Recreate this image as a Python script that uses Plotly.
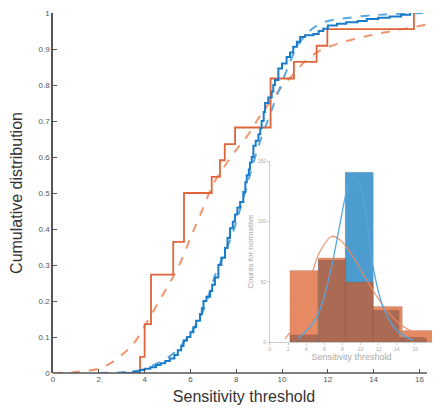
import plotly.graph_objects as go

# ---- main panel: empirical CDFs (step positions and values) ----
orange_step_x = [3.5, 3.8, 4.0, 4.28, 5.25, 5.72, 6.93, 7.29, 7.5, 7.95, 9.5, 10.52, 11.51, 11.98, 15.76]
orange_step_y = [0.0, 0.045, 0.136, 0.273, 0.364, 0.5, 0.545, 0.591, 0.636, 0.682, 0.818, 0.864, 0.909, 0.955, 1.0]

blue_step_x = [3.0, 3.5, 3.8, 4.0, 4.25, 4.5, 4.7, 4.9, 5.1, 5.3, 5.45, 5.6, 5.7, 5.85, 6.0,
               6.13, 6.25, 6.42, 6.5, 6.57, 6.7, 6.86, 6.95, 7.07, 7.22, 7.35, 7.51, 7.62,
               7.73, 7.85, 7.95, 8.05, 8.17, 8.31, 8.4, 8.46, 8.55, 8.6, 8.68, 8.75, 8.85,
               8.97, 9.05, 9.11, 9.2, 9.26, 9.4, 9.55, 9.62, 9.69, 9.84, 10.0, 10.2, 10.35,
               10.49, 10.65, 10.79, 11.0, 11.37, 11.6, 11.8, 12.0, 12.4, 12.8, 13.3, 13.7,
               14.2, 14.7, 15.2, 15.6]
blue_step_y = [0.0, 0.004, 0.008, 0.012, 0.016, 0.022, 0.027, 0.033, 0.04, 0.05, 0.063, 0.075,
               0.09, 0.1, 0.113, 0.127, 0.145, 0.164, 0.18, 0.2, 0.212, 0.228, 0.245, 0.265,
               0.3, 0.32, 0.347, 0.375, 0.402, 0.42, 0.44, 0.46, 0.475, 0.503, 0.53, 0.549,
               0.565, 0.585, 0.6, 0.631, 0.645, 0.663, 0.68, 0.7, 0.725, 0.75, 0.765, 0.782,
               0.8, 0.814, 0.846, 0.86, 0.878, 0.89, 0.906, 0.92, 0.933, 0.938, 0.942, 0.95,
               0.956, 0.965, 0.97, 0.974, 0.978, 0.983, 0.987, 0.99, 0.995, 1.0]

# ---- main panel: fitted CDFs (dashed) ----
orange_fit_x = [0, 1, 2, 2.5, 3, 3.5, 4, 4.5, 5, 5.5, 6, 6.5, 7, 7.5, 8, 8.5, 9, 9.5, 10,
                10.5, 11, 11.5, 12, 13, 14, 15, 16.3]
orange_fit_y = [0, 0.003, 0.012, 0.027, 0.05, 0.08, 0.13, 0.185, 0.24, 0.298, 0.375, 0.45,
                0.525, 0.575, 0.62, 0.66, 0.71, 0.755, 0.795, 0.83, 0.865, 0.89, 0.905,
                0.925, 0.94, 0.952, 0.968]

blue_fit_x = [2, 3, 3.8, 4.5, 5.25, 6, 6.56, 7.07, 7.8, 8.24, 8.6, 8.97, 9.4, 9.69, 10.2,
              10.79, 11.66, 13.1, 14.5, 16.3]
blue_fit_y = [0, 0.002, 0.008, 0.025, 0.054, 0.11, 0.173, 0.27, 0.38, 0.47, 0.55, 0.63,
              0.705, 0.755, 0.84, 0.92, 0.97, 0.988, 0.996, 1.0]

main_xticks = [0, 2, 4, 6, 8, 10, 12, 14, 16]
main_yticks = [0, 0.1, 0.2, 0.3, 0.4, 0.5, 0.6, 0.7, 0.8, 0.9, 1]

# ---- inset: histograms ----
orange_edges = [2.2, 5.33, 8.38, 11.4, 14.6, 17.94]
orange_counts = [59.4, 69.8, 49.8, 29.6, 9.6]
blue_edges = [2.2, 5.33, 8.3, 11.4, 14.26, 17.3]
blue_counts = [6, 68, 141, 26.5, 4]

# inset fitted curves
orange_pdf_x = [1.65, 2.57, 3.68, 4.6, 5.5, 6.8, 7.7, 8.8, 9.9, 11.4, 12.9, 14.3, 16.2, 17.6]
orange_pdf_y = [2.7, 12.3, 34, 56, 75, 87.6, 85, 75, 61.6, 42.4, 26, 15, 6.8, 2.7]
blue_pdf_x = [3.1, 5.15, 6.6, 7.7, 8.46, 9.2, 9.93, 10.66, 11.4, 12.5, 14.0, 15.8]
blue_pdf_y = [2.7, 20.5, 56, 97, 124.6, 137, 131, 102.7, 61.6, 28.7, 9.6, 1.4]

inset_xticks = [0, 2, 4, 6, 8, 10, 12, 14, 16]
inset_yticks = [0, 50, 100, 150]

ORANGE = "#D95319"
BLUE = "#0072BD"

def centers(edges):
    return [(a + b) / 2 for a, b in zip(edges[:-1], edges[1:])]

def widths(edges):
    return [b - a for a, b in zip(edges[:-1], edges[1:])]

fig = go.Figure()

# inset bars
fig.add_trace(go.Bar(x=centers(blue_edges), y=blue_counts, width=widths(blue_edges),
                     marker=dict(color=BLUE, opacity=0.7, line=dict(width=0.6, color="rgba(60,60,60,0.35)")),
                     xaxis="x2", yaxis="y2", showlegend=False))
fig.add_trace(go.Bar(x=centers(orange_edges), y=orange_counts, width=widths(orange_edges),
                     marker=dict(color=ORANGE, opacity=0.68, line=dict(width=0.6, color="rgba(60,60,60,0.35)")),
                     xaxis="x2", yaxis="y2", showlegend=False))
fig.add_trace(go.Scatter(x=orange_pdf_x, y=orange_pdf_y, mode="lines", line=dict(color="#EC8A60", width=1.1, shape="spline"),
                         xaxis="x2", yaxis="y2", showlegend=False))
fig.add_trace(go.Scatter(x=blue_pdf_x, y=blue_pdf_y, mode="lines", line=dict(color="#55A6DE", width=1.3, shape="spline"),
                         xaxis="x2", yaxis="y2", showlegend=False))

# main dashed fits
fig.add_trace(go.Scatter(x=orange_fit_x, y=orange_fit_y, mode="lines",
                         line=dict(color="#F0966E", width=2, dash="dash", shape="spline"), showlegend=False))
fig.add_trace(go.Scatter(x=blue_fit_x, y=blue_fit_y, mode="lines",
                         line=dict(color="#5AA8DE", width=2, dash="dash", shape="spline"), showlegend=False))
# main ECDFs
fig.add_trace(go.Scatter(x=orange_step_x, y=orange_step_y, mode="lines",
                         line=dict(color="#E0653A", width=1.8, shape="hv"), showlegend=False))
fig.add_trace(go.Scatter(x=blue_step_x, y=blue_step_y, mode="lines",
                         line=dict(color="#1A7CC8", width=2, shape="hv"), showlegend=False))

FONT = "Liberation Sans, Arial, sans-serif"

# the page body adds an 8px offset, so margins are set relative to that
fig.update_layout(
    width=440, height=412,
    margin=dict(l=45, r=13, t=5, b=47),
    paper_bgcolor="white", plot_bgcolor="rgba(0,0,0,0)",
    font=dict(family=FONT),
    barmode="overlay",
    xaxis=dict(range=[0, 16.68], tickvals=main_xticks, ticks="inside", ticklen=4, tickcolor="#555",
               showline=False, showgrid=False, zeroline=False, automargin=False,
               tickfont=dict(size=8, color="#555"), ticklabeloverflow="allow",
               title=dict(text="Sensitivity threshold", font=dict(size=16, color="#333"), standoff=7)),
    yaxis=dict(range=[0, 1], tickvals=main_yticks, ticks="inside", ticklen=4, tickcolor="#555",
               showline=True, linecolor="#555", linewidth=1.5, showgrid=False, zeroline=False, automargin=False,
               tickfont=dict(size=8, color="#555"), ticklabeloverflow="allow",
               title=dict(text="Cumulative distribution", font=dict(size=16, color="#333"), standoff=12)),
    xaxis2=dict(domain=[0.568, 0.995], anchor="y2", range=[0, 18], tickvals=inset_xticks,
                ticks="outside", ticklen=2, tickcolor="#ccc", showline=True, linecolor="#ccc", linewidth=1,
                showgrid=False, zeroline=False, automargin=False, tickfont=dict(size=5, color="#aaa"),
                title=dict(text="Sensitivity threshold", font=dict(size=9, color="#aaa"), standoff=1)),
    yaxis2=dict(domain=[0.086, 0.588], anchor="x2", range=[0, 150], tickvals=inset_yticks,
                ticks="outside", ticklen=2, tickcolor="#ccc", showline=True, linecolor="#ccc", linewidth=1,
                showgrid=False, zeroline=False, automargin=False, tickfont=dict(size=5, color="#aaa"),
                title=dict(text="Counts for normative", font=dict(size=8, color="#aaa"), standoff=2)),
    shapes=[dict(type="line", xref="x", yref="paper", x0=0, x1=16.33, y0=0, y1=0,
                 line=dict(color="#555", width=1.5))],
)

fig.write_html("out.html")
